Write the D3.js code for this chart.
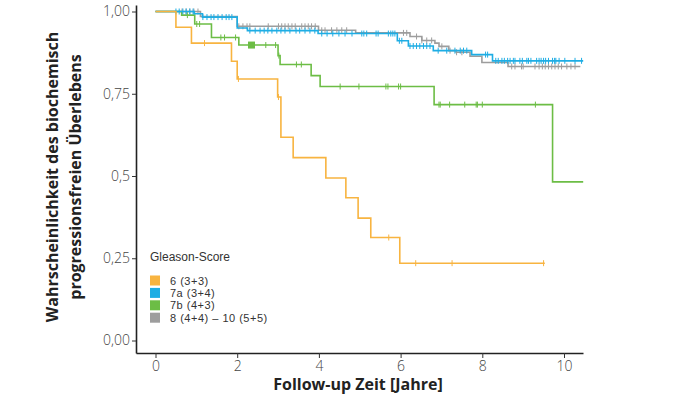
<!DOCTYPE html>
<html><head><meta charset="utf-8">
<script src="https://cdn.jsdelivr.net/npm/d3@7"></script>
<style>
html,body{margin:0;padding:0;background:#fff;}
svg{display:block;font-family:"Open Sans","Noto Sans",sans-serif;}
</style></head>
<body><svg id="c" width="674" height="396"></svg>
<script>
// ---- data ----
const seriesNames = ["6 (3+3)", "7a (3+4)", "7b (4+3)", "8 (4+4) \u2013 10 (5+5)"];
const seriesColors = ["#F8B440", "#1EADE4", "#6CBD45", "#9D9D9D"];

const orangeTimes = [0.5, 0.88, 1.86, 2.0, 2.99, 3.07, 3.37, 4.17, 4.66, 4.96, 5.27, 5.98];
const orangeSurv  = [0.952, 0.904, 0.849, 0.795, 0.740, 0.618, 0.556, 0.494, 0.434, 0.372, 0.313, 0.235];
const orangeCens  = [1.2, 2.03, 3.01, 5.71, 6.37, 7.26, 9.5];
const orangeEnd = 9.53;

const blueTimes = [0.95, 1.15, 2.0, 2.25, 3.98, 5.92, 6.19, 6.8, 7.74, 8.25];
const blueSurv  = [0.993, 0.983, 0.950, 0.942, 0.933, 0.911, 0.895, 0.881, 0.869, 0.850];
const blueCens  = [0.50, 0.58, 0.67, 0.75, 0.84, 0.92, 1.16, 1.26, 1.36, 1.43, 1.53, 1.63, 1.73, 1.80, 1.87,
  2.31, 2.44, 2.56, 2.66, 2.75, 2.85, 2.97, 3.07, 3.17, 3.29, 3.44, 3.53, 3.66, 3.78, 3.90,
  4.07, 4.20, 4.34, 4.49, 4.64, 4.81, 5.05, 5.10, 5.17, 5.40, 5.45, 5.70, 5.76, 5.81, 5.86,
  5.97, 6.03, 6.23, 6.31, 6.39, 6.47, 6.56, 6.64, 6.72, 6.92, 7.13, 7.33, 7.46, 7.54, 7.62, 8.08, 8.13,
  8.33, 8.39, 8.48, 8.54, 8.62, 8.68, 8.76, 8.80, 8.92, 8.98, 9.09, 9.13, 9.19, 9.33, 9.39, 9.44, 9.50,
  9.55, 9.62, 9.72, 9.77, 9.80, 9.88, 10.02, 10.27, 10.43];
const blueEnd = 10.47;

const greenTimes = [0.64, 0.96, 1.37, 2.04, 3.0, 3.05, 3.81, 4.03, 6.82, 9.72];
const greenSurv  = [0.989, 0.962, 0.921, 0.898, 0.866, 0.839, 0.805, 0.772, 0.717, 0.482];
const greenCens  = [0.78, 1.01, 1.08, 1.6, 1.69, 1.96, 2.7, 2.94, 3.02, 3.45, 3.57, 4.52, 4.98,
  5.64, 5.69, 5.95, 6.0, 6.94, 6.97, 7.2, 7.57, 7.85, 7.88, 8.0, 9.3];
const greenSquares = [2.35];
const greenEnd = 10.47;

const greyTimes = [1.1, 2.0, 3.99, 4.9, 6.23, 6.52, 6.84, 6.94, 7.18, 7.36, 7.70, 7.99, 8.63];
const greySurv  = [0.985, 0.955, 0.943, 0.935, 0.924, 0.912, 0.904, 0.894, 0.881, 0.876, 0.864, 0.845, 0.833];
const greyCens  = [0.65, 0.75, 0.84, 0.94, 1.04, 2.04, 2.14, 2.24, 2.31, 2.76, 3.01, 3.09, 3.17, 3.25, 3.34,
  3.42, 3.58, 3.66, 3.74, 3.82, 3.91, 4.07, 4.15, 4.31, 4.44, 4.56, 4.68, 6.07, 6.15, 6.39, 6.52, 6.64,
  6.76, 7.01, 7.21, 7.37, 7.50, 8.72, 8.80, 8.96, 9.00, 9.29, 9.39, 9.47, 9.54, 9.62, 9.70, 9.78, 9.86,
  9.94, 10.07, 10.17, 10.27];
const greyEnd = 10.4;

const xTicks = [0, 2, 4, 6, 8, 10];
const yTicks = [0, 0.25, 0.5, 0.75, 1.0];
const yTickLabels = ["0,00", "0,25", "0,5", "0,75", "1,00"];
const legendTitle = "Gleason-Score";
const xTitle = "Follow-up Zeit [Jahre]";
const yTitle = ["Wahrscheinlichkeit des biochemisch", "progressionsfreien \u00dcberlebens"];

// ---- layout ----
const svg = d3.select("#c");
const x = d3.scaleLinear().domain([0, 10]).range([155.5, 564]);
const y = d3.scaleLinear().domain([0, 1]).range([340.5, 11.5]);
const xMin = x.invert(136), xMax = x.invert(583);
const yMin = y.invert(353), yMax = y.invert(5);

const series = [
  {times: greyTimes, surv: greySurv, cens: greyCens, end: greyEnd, color: seriesColors[3]},
  {times: greenTimes, surv: greenSurv, cens: greenCens, end: greenEnd, color: seriesColors[2], squares: greenSquares},
  {times: blueTimes, surv: blueSurv, cens: blueCens, end: blueEnd, color: seriesColors[1]},
  {times: orangeTimes, surv: orangeSurv, cens: orangeCens, end: orangeEnd, color: seriesColors[0]}
];

function survAt(s, t) {
  let v = 1;
  for (let i = 0; i < s.times.length; i++) if (s.times[i] <= t) v = s.surv[i];
  return v;
}

const line = d3.line().x(d => x(d[0])).y(d => y(d[1])).curve(d3.curveStepAfter);

const plot = svg.append("g");
series.forEach(s => {
  const pts = [[0, 1]];
  s.times.forEach((t, i) => pts.push([t, s.surv[i]]));
  pts.push([s.end, s.surv[s.surv.length - 1]]);
  plot.append("path").attr("d", line(pts)).attr("fill", "none")
    .attr("stroke", s.color).attr("stroke-width", 1.6);
  plot.selectAll(null).data(s.cens).enter().append("line")
    .attr("x1", d => x(d)).attr("x2", d => x(d))
    .attr("y1", d => y(survAt(s, d)) - 3).attr("y2", d => y(survAt(s, d)) + 3)
    .attr("stroke", s.color).attr("stroke-width", 1);
  if (s.squares) {
    plot.selectAll(null).data(s.squares).enter().append("rect")
      .attr("x", d => x(d) - 3.5).attr("y", d => y(survAt(s, d)) - 3.5)
      .attr("width", 7).attr("height", 7).attr("fill", s.color);
  }
});

// axes
const xs = d3.scaleLinear().domain([xMin, xMax]).range([136, 583]);
const ys = d3.scaleLinear().domain([yMin, yMax]).range([353, 5]);
const xAxis = svg.append("g").attr("transform", "translate(0,353)")
  .call(d3.axisBottom(xs).tickValues(xTicks).tickSize(5).tickSizeOuter(0).tickPadding(3).tickFormat(d3.format("d")));
const yAxis = svg.append("g").attr("transform", "translate(136,0)")
  .call(d3.axisLeft(ys).tickValues(yTicks).tickSize(4).tickSizeOuter(0).tickPadding(2)
    .tickFormat((d, i) => yTickLabels[i]));
[xAxis, yAxis].forEach(a => {
  a.select(".domain").attr("stroke", "#222").attr("stroke-width", 1.6);
  a.selectAll(".tick line").attr("stroke", "#333");
  a.selectAll(".tick text").attr("fill", "#444").attr("font-size", 14)
    .attr("font-family", "'Open Sans',sans-serif").attr("font-weight", 300);
});

// titles
svg.append("text").attr("x", 358).attr("y", 390).attr("text-anchor", "middle")
  .attr("font-size", 16).attr("font-weight", 700).attr("fill", "#222").text(xTitle);
const yt = svg.append("text").attr("transform", "translate(0,177) rotate(-90)")
  .attr("text-anchor", "middle").attr("font-size", 16).attr("font-weight", 700).attr("fill", "#222");
yt.append("tspan").attr("x", 0).attr("y", 58).text(yTitle[0]);
yt.append("tspan").attr("x", 0).attr("y", 81).text(yTitle[1]);

// legend
const lg = svg.append("g").attr("font-family", "'Liberation Sans',Arial,sans-serif");
lg.append("text").attr("x", 150).attr("y", 261).attr("font-size", 12).attr("fill", "#333")
  .text(legendTitle);
const legendOrder = [0, 1, 2, 3];
legendOrder.forEach((k, i) => {
  const cy = 280.5 + i * 12.4;
  lg.append("rect").attr("x", 150).attr("y", cy - 5).attr("width", 10).attr("height", 10).attr("fill", seriesColors[k]);
  lg.append("text").attr("x", 170).attr("y", cy + 4).attr("font-size", 11).attr("fill", "#333")
    .attr("letter-spacing", 0.5).text(seriesNames[k]);
});
</script></body></html>
